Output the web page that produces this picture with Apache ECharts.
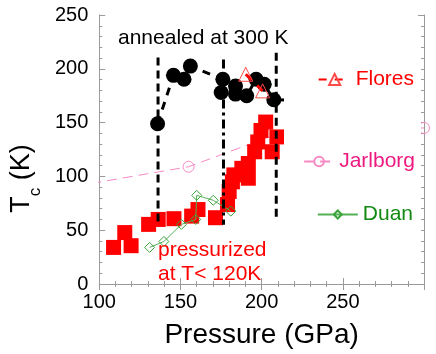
<!DOCTYPE html>
<html>
<head>
<meta charset="utf-8">
<script src="https://cdn.jsdelivr.net/npm/echarts@6/dist/echarts.min.js"></script>
<style>
  html, body { margin: 0; padding: 0; background: #fff; }
  #chart { width: 436px; height: 354px; }
</style>
</head>
<body>
<div id="chart"></div>
<script>
  // pressure (GPa) / Tc (K)
  const squaresP = [108.8, 115.7, 119.6, 130.4, 136.3, 146, 156.9, 160.8, 171.6, 179, 180, 182, 182.9, 187.8, 191.8, 191.8, 195.7, 197.6, 199.6, 202.5, 206.5, 209.4]
  const squaresT = [34, 47.8, 35.6, 55.4, 60, 60.7, 63.1, 69.2, 61.6, 73.8, 86, 95, 101.4, 107.5, 112, 98.3, 122.9, 132, 142.7, 150.5, 122.9, 136.7]

  const annealP = [135.9, 145.7, 152.2, 156.1, 176.1, 175.1, 183.9, 183.9, 190.8, 196.6, 201.6, 207.5, 220.6]
  const annealT = [148.9, 193.9, 190.3, 202.5, 190.3, 178, 184, 176.5, 175, 190.3, 185.7, 171.2, 171]

  const floresP = [190.2, 200.6]
  const floresT = [194.9, 179.5]

  const jarlborgP = [95, 155, 218, 300]
  const jarlborgT = [93.4, 109, 144, 145]

  const duanP = [131, 139.8, 150.6, 159.4, 160, 170.2, 181]
  const duanT = [34, 39.5, 55.4, 60, 82.4, 77.8, 67.7]

  // vertical guide lines
  const guideP = [136.2, 176.5, 209]
  const guideTop = [210.5, 208.6, 215]
  const guideBottom = [56, 55, 61.6]
  const guideDash = [[8, 5], [9, 4, 3, 4], [8, 5]]

  const xTicks = [100, 150, 200, 250]

  const pairs = (xs, ys) => xs.map((x, i) => [x, ys[i]])
  const font = 'Liberation Sans, Arial, sans-serif'
  const axisGray = '#9a9a9a'

  const chart = echarts.init(document.getElementById('chart'))

  const baseX = {
    type: 'value', min: 100, max: 300, interval: 50,
    axisLine: { show: true, lineStyle: { color: axisGray, width: 1 } },
    axisTick: { show: true, inside: true, length: 6, lineStyle: { color: axisGray } },
    minorTick: { show: true, splitNumber: 5, length: 3, lineStyle: { color: axisGray } },
    splitLine: { show: false },
  }
  const baseY = {
    type: 'value', min: 0, max: 250, interval: 50,
    axisLine: { show: true, lineStyle: { color: axisGray, width: 1 } },
    axisTick: { show: true, inside: true, length: 6, lineStyle: { color: axisGray } },
    minorTick: { show: true, splitNumber: 5, length: 3, lineStyle: { color: axisGray } },
    splitLine: { show: false },
  }

  const guides = guideP.map((p, i) => ({
    name: 'guide' + i,
    type: 'line',
    data: [[p, guideTop[i]], [p, guideBottom[i]]],
    symbol: 'none',
    lineStyle: { color: '#000', width: 3, type: guideDash[i] },
    z: 6,
    silent: true,
  }))

  chart.setOption({
    animation: false,
    textStyle: { fontFamily: font },
    grid: { left: 84, right: 12, top: 15, bottom: 67 },
    xAxis: [
      Object.assign({}, baseX, {
        position: 'bottom',
        axisLabel: {
          color: '#000', fontSize: 20, margin: 8, fontFamily: font,
          formatter: v => (xTicks.indexOf(v) >= 0 ? String(v) : ''),
        },
        name: 'Pressure (GPa)',
        nameLocation: 'middle',
        nameGap: 37,
        nameTextStyle: { color: '#000', fontSize: 28, fontFamily: font },
      }),
      Object.assign({}, baseX, { position: 'top', axisLabel: { show: false } }),
    ],
    yAxis: [
      Object.assign({}, baseY, {
        position: 'left',
        axisLabel: { color: '#000', fontSize: 20, margin: 11, fontFamily: font },
        name: '{t|T}{s|c}{t| (K)}',
        nameLocation: 'middle',
        nameGap: 52,
        nameTextStyle: {
          color: '#000',
          padding: [0, 58, 0, 0],
          rich: {
            t: { fontSize: 27, fontFamily: font, color: '#000', verticalAlign: 'top', lineHeight: 30 },
            s: { fontSize: 17, fontFamily: font, color: '#000', verticalAlign: 'bottom', lineHeight: 36 },
          },
        },
      }),
      Object.assign({}, baseY, { position: 'right', axisLabel: { show: false } }),
    ],
    legend: [
      {
        data: ['Flores'], right: 22, top: 69, padding: 0, itemWidth: 32, itemHeight: 14, itemGap: 0, z: 60,
        textStyle: { color: '#ff0000', fontSize: 21, fontFamily: font },
      },
      {
        data: ['Jarlborg'], right: 21, top: 151, padding: 0, itemWidth: 30, itemHeight: 12, itemGap: 0, z: 60,
        textStyle: { color: '#ee1a80', fontSize: 21, fontFamily: font },
      },
      {
        data: ['Duan'], right: 23, top: 204, padding: 0, itemWidth: 40, itemHeight: 10, itemGap: 0, z: 60,
        textStyle: { color: '#118a11', fontSize: 21, fontFamily: font },
      },
    ],
    graphic: [
      { type: 'rect', z: 50, silent: true, shape: { x: 284, y: 58, width: 137, height: 178 }, style: { fill: '#fff' } },
      {
        type: 'text', z: 55, left: 118, top: 28,
        style: { text: 'annealed at 300 K', fill: '#000', font: '21px ' + font },
      },
      {
        type: 'text', z: 55, left: 158, top: 238,
        style: { text: 'pressurized\nat T< 120K', fill: '#ff0000', font: '21px ' + font, lineHeight: 24 },
      },
    ],
    series: [
      {
        name: 'Jarlborg',
        type: 'line',
        data: pairs(jarlborgP, jarlborgT),
        symbol: 'circle',
        symbolSize: 11,
        itemStyle: { color: 'rgba(0,0,0,0)', borderColor: '#f58ac4', borderWidth: 1 },
        lineStyle: { color: '#f58ac4', width: 1, type: [10, 6] },
        z: 1,
      },
      {
        name: 'pressurized',
        type: 'line',
        data: pairs(squaresP, squaresT),
        symbol: 'rect',
        symbolSize: 15,
        lineStyle: { width: 0 },
        itemStyle: { color: '#ff0000' },
        z: 2,
      },
      {
        name: 'Duan',
        type: 'line',
        data: pairs(duanP, duanT),
        symbol: 'diamond',
        symbolSize: 10,
        itemStyle: { color: 'rgba(0,0,0,0)', borderColor: '#3aa33a', borderWidth: 1 },
        lineStyle: { color: '#55b055', width: 1 },
        z: 3,
      },
      {
        name: 'annealed',
        type: 'line',
        data: pairs(annealP, annealT),
        symbol: 'circle',
        symbolSize: 15,
        itemStyle: { color: '#000' },
        lineStyle: { color: '#000', width: 3, type: [8, 7] },
        z: 4,
      },
      {
        name: 'Flores',
        type: 'line',
        data: pairs(floresP, floresT),
        symbol: 'triangle',
        symbolSize: 14,
        itemStyle: { color: 'rgba(0,0,0,0)', borderColor: '#ff4a4a', borderWidth: 1 },
        lineStyle: { color: '#ff0000', width: 3, type: [8, 8] },
        z: 5,
      },
    ].concat(guides),
  })
</script>
</body>
</html>
